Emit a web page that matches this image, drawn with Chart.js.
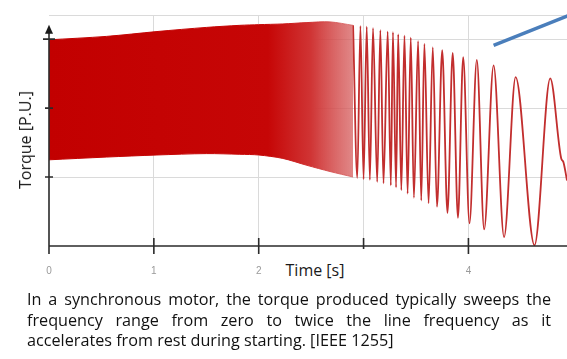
<!DOCTYPE html>
<html>
<head>
<meta charset="utf-8">
<script src="https://cdn.jsdelivr.net/npm/chart.js@4.4.1/dist/chart.umd.min.js"></script>
<style>
  html, body { margin: 0; padding: 0; background: #fff; }
  body { width: 567px; height: 359px; position: relative; overflow: hidden; font-family: "Open Sans", sans-serif; }
  #wrap { position: absolute; left: 0; top: 0; width: 567px; height: 290px; }
  #ytitle { position: absolute; left: 25px; top: 140px; transform: translate(-50%, -50%) rotate(-90deg);
            font-size: 16px; color: #1a1a1a; white-space: nowrap; }
  #xtitle { position: absolute; left: 262px; top: 249px; width: 106px; height: 34px; background: #fff;
            font-size: 16px; color: #1a1a1a; text-align: center; line-height: 42px; }
  #caption { position: absolute; left: 27px; top: 289px; width: 524px; font-size: 16.2px; line-height: 20.5px; color: #111; }
  #caption .j { text-align: justify; text-align-last: justify; }
</style>
</head>
<body>
<div id="wrap"><canvas id="torqueChart"></canvas></div>
<div id="ytitle">Torque [P.U.]</div>
<div id="xtitle">Time [s]</div>
<div id="caption">
  <div class="j">In a synchronous motor, the torque produced typically sweeps the</div>
  <div class="j">frequency range from zero to twice the line frequency as it</div>
  <div>accelerates from rest during starting. [IEEE 1255]</div>
</div>
<script>
// Dense part (too fast to resolve): upper / lower envelope of the band
const bandTime  = [0, 0.55, 1.03, 1.5, 1.82, 2.0, 2.23, 2.46, 2.68, 2.9];
const bandUpper = [2.99, 3.04, 3.11, 3.17, 3.20, 3.21, 3.22, 3.24, 3.25, 3.20];
const bandLower = [1.25, 1.29, 1.32, 1.34, 1.33, 1.32, 1.27, 1.17, 1.08, 1.00];

// Resolved oscillations: peaks and troughs
const peakTime   = [2.90, 2.97, 3.03, 3.09, 3.16, 3.23, 3.28, 3.33, 3.39, 3.45, 3.52, 3.58, 3.66, 3.75, 3.85, 3.95, 4.08, 4.24, 4.45, 4.78];
const peakTorque = [3.20, 3.19, 3.18, 3.16, 3.13, 3.11, 3.10, 3.07, 3.05, 3.02, 2.97, 2.93, 2.88, 2.84, 2.80, 2.74, 2.70, 2.62, 2.45, 2.43];
const troughTime   = [2.94, 3.00, 3.06, 3.13, 3.19, 3.26, 3.31, 3.36, 3.42, 3.48, 3.55, 3.62, 3.70, 3.80, 3.90, 4.01, 4.15, 4.34, 4.63];
const troughTorque = [0.99, 0.97, 0.96, 0.93, 0.91, 0.88, 0.85, 0.81, 0.76, 0.70, 0.66, 0.62, 0.57, 0.48, 0.41, 0.33, 0.24, 0.13, 0.01];
const tailTime   = [4.885, 4.905, 4.94];
const tailTorque = [1.27, 1.22, 0.95];

const timeTicks = [0, 1, 2, 3, 4];
const torqueTicks = [1, 2, 3];

const band = (arr) => bandTime.map((t, i) => ({ x: t, y: arr[i] }));
const osc = [];
peakTime.forEach((t, i) => osc.push({ x: t, y: peakTorque[i] }));
troughTime.forEach((t, i) => osc.push({ x: t, y: troughTorque[i] }));
tailTime.forEach((t, i) => osc.push({ x: t, y: tailTorque[i] }));
osc.sort((a, b) => a.x - b.x);

const bandFill = (c) => {
    const chart = c.chart;
    if (!chart.chartArea) return '#c40000';
    const xs = chart.scales.x;
    const g = chart.ctx.createLinearGradient(xs.getPixelForValue(0), 0, xs.getPixelForValue(2.9), 0);
    g.addColorStop(0, '#c20000');
    g.addColorStop(0.72, '#c60606');
    g.addColorStop(0.86, '#d03434');
    g.addColorStop(1, 'rgba(214,96,96,0.75)');
    return g;
};

// axis lines, arrow and tick marks, drawn over the data
const axesPlugin = {
    id: 'axes',
    afterDatasetsDraw(chart) {
        const { ctx, chartArea } = chart;
        const xs = chart.scales.x, ys = chart.scales.y;
        const x0 = xs.getPixelForValue(0), y0 = ys.getPixelForValue(0);
        ctx.save();
        ctx.strokeStyle = '#2b2b2b';
        ctx.fillStyle = '#1a1a1a';
        ctx.lineWidth = 1.6;
        ctx.beginPath();
        ctx.moveTo(x0, y0); ctx.lineTo(chartArea.right, y0);
        ctx.moveTo(x0, y0); ctx.lineTo(x0, ys.getPixelForValue(3.12));
        timeTicks.forEach(t => {
            const px = xs.getPixelForValue(t);
            ctx.moveTo(px, y0 - 8); ctx.lineTo(px, y0 + 8);
        });
        torqueTicks.forEach(v => {
            const py = ys.getPixelForValue(v);
            const w = v === 3 ? 6 : 4;
            ctx.moveTo(x0 - w, py); ctx.lineTo(x0 + w, py);
        });
        ctx.stroke();
        const tip = ys.getPixelForValue(3.21);
        ctx.beginPath();
        ctx.moveTo(x0, tip); ctx.lineTo(x0 - 4, tip + 9); ctx.lineTo(x0 + 4, tip + 9);
        ctx.closePath(); ctx.fill();
        ctx.restore();
    },
    afterDraw(chart) {
        const ctx = chart.ctx;
        const xs = chart.scales.x, ys = chart.scales.y;
        ctx.save();
        ctx.strokeStyle = '#4a7ebb';
        ctx.lineWidth = 3.5;
        ctx.beginPath();
        ctx.moveTo(xs.getPixelForValue(4.24), ys.getPixelForValue(2.91));
        ctx.lineTo(xs.getPixelForValue(5.0), ys.getPixelForValue(3.37));
        ctx.stroke();
        ctx.restore();
    }
};

const ctx = document.getElementById('torqueChart').getContext('2d');
new Chart(ctx, {
    type: 'line',
    data: {
        datasets: [{
            data: band(bandUpper),
            borderColor: bandFill,
            backgroundColor: bandFill,
            borderWidth: 1,
            pointRadius: 0,
            tension: 0.3,
            fill: '+1'
        }, {
            data: band(bandLower),
            borderColor: bandFill,
            borderWidth: 1,
            pointRadius: 0,
            tension: 0.3,
            fill: false
        }, {
            data: osc,
            borderColor: 'rgb(194,46,46)',
            borderWidth: 1.8,
            pointRadius: 0,
            cubicInterpolationMode: 'monotone',
            fill: false
        }]
    },
    options: {
        responsive: true,
        maintainAspectRatio: false,
        animation: false,
        layout: { padding: { top: 15, left: 0, right: 0, bottom: 0 } },
        plugins: { legend: { display: false }, tooltip: { enabled: false } },
        scales: {
            x: {
                type: 'linear',
                min: 0,
                max: 4.94,
                afterFit: (s) => { s.height = 44; },
                border: { display: false },
                grid: {
                    drawTicks: false,
                    color: (c) => c.tick && c.tick.value === 0 ? 'rgba(0,0,0,0)' : '#dadada'
                },
                ticks: {
                    stepSize: 1,
                    includeBounds: false,
                    padding: 19,
                    color: '#9a9a9a',
                    font: { size: 10 }
                }
            },
            y: {
                min: 0,
                max: 3.35,
                afterFit: (s) => { s.width = 49; },
                border: { display: false },
                grid: {
                    drawTicks: false,
                    color: (c) => c.tick && c.tick.value === 0 ? 'rgba(0,0,0,0)' : '#dadada'
                },
                ticks: { display: false, stepSize: 1 }
            }
        }
    },
    plugins: [axesPlugin]
});
</script>
</body>
</html>
